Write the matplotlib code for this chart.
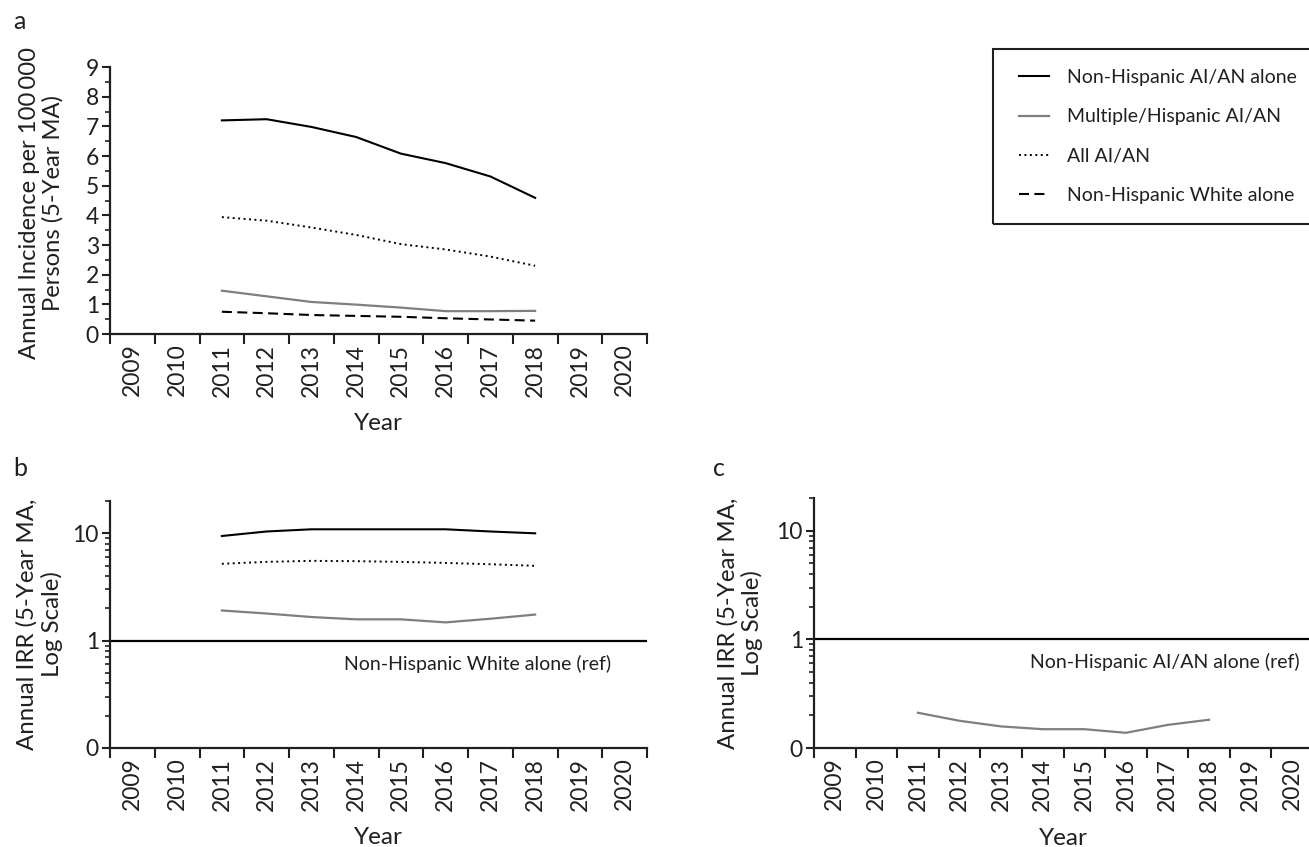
import matplotlib
matplotlib.use("Agg")
import matplotlib.pyplot as plt
from matplotlib.lines import Line2D
from matplotlib.patches import Rectangle
from matplotlib.ticker import FixedLocator, LogLocator, NullFormatter

# ---- data -------------------------------------------------------------
categories = list(range(2009, 2021))
years = [2011, 2012, 2013, 2014, 2015, 2016, 2017, 2018]

# annual incidence per 100 000 persons (5-year moving average)
inc_nh_aian = [7.20, 7.24, 6.98, 6.64, 6.08, 5.76, 5.31, 4.59]
inc_multi_hisp = [1.46, 1.27, 1.08, 0.99, 0.89, 0.77, 0.77, 0.78]
inc_all_aian = [3.94, 3.82, 3.59, 3.34, 3.03, 2.85, 2.61, 2.30]
inc_nh_white = [0.75, 0.70, 0.64, 0.61, 0.58, 0.53, 0.49, 0.45]

# incidence rate ratios vs non-Hispanic White alone
irr_nh_aian_w = [9.44, 10.4, 10.9, 10.9, 10.9, 10.9, 10.4, 10.0]
irr_all_aian_w = [5.20, 5.42, 5.54, 5.50, 5.42, 5.30, 5.15, 4.98]
irr_multi_w = [1.91, 1.79, 1.66, 1.58, 1.58, 1.48, 1.60, 1.75]

# incidence rate ratio vs non-Hispanic AI/AN alone
irr_multi_aian = [0.211, 0.178, 0.158, 0.149, 0.149, 0.138, 0.163, 0.182]

series_labels = ["Non-Hispanic AI/AN alone", "Multiple/Hispanic AI/AN",
                 "All AI/AN", "Non-Hispanic White alone"]

# ---- styles -----------------------------------------------------------
plt.rcParams["font.family"] = ["Lato", "DejaVu Sans"]
TXT = "#231f20"
GREY = "#7f7f7f"
plt.rcParams["text.color"] = TXT
plt.rcParams["axes.labelcolor"] = TXT
plt.rcParams["xtick.color"] = TXT
plt.rcParams["ytick.color"] = TXT

STY = {
    "nh_aian": dict(color="black", lw=1.5, ls="-"),
    "multi": dict(color=GREY, lw=1.6, ls="-"),
    "all": dict(color="black", lw=1.4, ls=(0, (1, 1.8))),
    "white": dict(color="black", lw=1.5, ls=(0, (4.8, 2.6))),
}

W, H = 1309, 847
fig = plt.figure(figsize=(W / 100, H / 100), dpi=100)


def rect(l, t, r, b):
    return [l / W, 1 - b / H, (r - l) / W, (b - t) / H]


ax_a = fig.add_axes(rect(110, 67, 647, 334))
ax_b = fig.add_axes(rect(110, 501, 647, 748))
ax_c = fig.add_axes(rect(814, 498, 1313, 748))

xpos = [categories.index(y) + 0.5 for y in years]


def style_axes(ax):
    n = len(categories)
    ax.set_xlim(0, n)
    ax.xaxis.set_major_locator(FixedLocator(range(n + 1)))
    ax.xaxis.set_major_formatter(NullFormatter())
    ax.set_xticks([i + 0.5 for i in range(n)], minor=True)
    ax.set_xticklabels([str(c) for c in categories], minor=True, rotation=90)
    ax.tick_params(axis="x", which="major", length=7, width=1.5, direction="out")
    ax.tick_params(axis="x", which="minor", length=0, pad=7, labelsize=16.5)
    ax.tick_params(axis="y", which="major", length=6, width=1.5, labelsize=16.5, pad=2)
    ax.tick_params(axis="y", which="minor", length=3.5, width=1.2)
    for s in ("top", "right"):
        ax.spines[s].set_visible(False)
    for s in ("left", "bottom"):
        ax.spines[s].set_linewidth(1.6)
        ax.spines[s].set_color("#231f20")
    ax.set_xlabel("Year", fontsize=17.5)


for ax in (ax_a, ax_b, ax_c):
    style_axes(ax)

# ---- panel a ----------------------------------------------------------
ax_a.plot(xpos, inc_nh_aian, **STY["nh_aian"])
ax_a.plot(xpos, inc_multi_hisp, **STY["multi"])
ax_a.plot(xpos, inc_all_aian, **STY["all"])
ax_a.plot(xpos, inc_nh_white, **STY["white"])
ax_a.set_ylim(0, 9)
ax_a.set_yticks(range(0, 10))
ax_a.set_yticks([i + 0.5 for i in range(9)], minor=True)
ax_a.set_ylabel("Annual Incidence per 100\u2009000\nPersons (5-Year MA)",
                fontsize=17.1, linespacing=1.15)
ax_a.yaxis.set_label_coords(-0.086, 0.49)
ax_a.xaxis.set_label_coords(0.5, -0.295)

# ---- panels b and c (log scale) ---------------------------------------
for ax in (ax_b, ax_c):
    ax.set_yscale("log")
    ax.set_ylim(0.1, 20)
    ax.yaxis.set_major_locator(FixedLocator([0.1, 1, 10]))
    ax.set_yticklabels(["0", "1", "10"])
    ax.yaxis.set_minor_locator(LogLocator(base=10, subs=range(2, 10)))
    ax.yaxis.set_minor_formatter(NullFormatter())
    ax.axhline(1, color="black", lw=1.6)
    ax.set_ylabel("Annual IRR (5-Year MA,\nLog Scale)", fontsize=17.3, linespacing=1.15)
    ax.xaxis.set_label_coords(0.5, -0.32)

ax_b.plot(xpos, irr_nh_aian_w, **STY["nh_aian"])
ax_b.plot(xpos, irr_all_aian_w, **STY["all"])
ax_b.plot(xpos, irr_multi_w, **STY["multi"])
ax_b.text(11.2, 0.61, "Non-Hispanic White alone (ref)", ha="right", va="center",
          fontsize=14)
ax_b.yaxis.set_label_coords(-0.088, 0.5)

ax_c.plot(xpos, irr_multi_aian, **STY["multi"])
ax_c.text(11.68, 0.615, "Non-Hispanic AI/AN alone (ref)", ha="right", va="center",
          fontsize=14)
ax_c.yaxis.set_label_coords(-0.102, 0.5)

# ---- panel letters ----------------------------------------------------
fig.text(13 / W, 1 - 10 / H, "a", fontsize=18, va="top", ha="left")
fig.text(13 / W, 1 - 457 / H, "b", fontsize=18, va="top", ha="left")
fig.text(713 / W, 1 - 457 / H, "c", fontsize=18, va="top", ha="left")

# ---- legend -----------------------------------------------------------
handles = [Line2D([], [], **STY["nh_aian"]), Line2D([], [], **STY["multi"]),
           Line2D([], [], **STY["all"]), Line2D([], [], **STY["white"])]
fig.legend(handles, series_labels, loc="upper left",
           bbox_to_anchor=(1019 / W, 1 - 69 / H), frameon=False, fontsize=14,
           borderpad=0, borderaxespad=0, handlelength=1.55, handletextpad=0.9,
           labelspacing=1.15)
fig.add_artist(Rectangle((993 / W, 1 - 224 / H), (W + 5 - 993) / W, 175 / H,
                         transform=fig.transFigure, fill=False,
                         edgecolor="#231f20", lw=1.5, clip_on=False))

fig.savefig("out.png", dpi=100)
